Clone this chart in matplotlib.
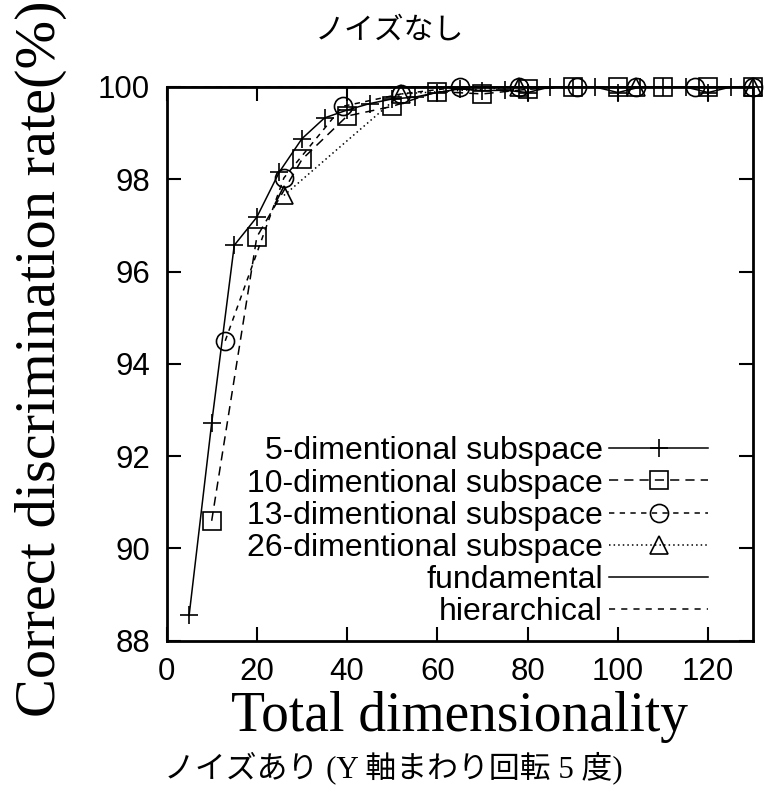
import matplotlib.pyplot as plt

# values
dim5_x = [5, 10, 15, 20, 25, 30, 35, 40, 45, 50, 55, 60, 65,
          70, 75, 80, 85, 90, 95, 100, 105, 110, 115, 120, 125, 130]
dim5_y = [88.55, 92.72, 96.57, 97.18, 98.16, 98.88, 99.33, 99.50, 99.64, 99.74,
          99.78, 99.88, 99.96, 99.92, 99.93, 99.88, 100.0, 100.0, 100.0, 99.88,
          100.0, 100.0, 100.0, 99.88, 100.0, 100.0]

dim10_x = [10, 20, 30, 40, 50, 60, 70, 80, 90, 100, 110, 120, 130]
dim10_y = [90.6, 96.75, 98.43, 99.37, 99.58, 99.90, 99.85, 99.95, 100.0,
           100.0, 100.0, 100.0, 100.0]

dim13_x = [13, 26, 39, 52, 65, 78, 91, 104, 117, 130]
dim13_y = [94.5, 98.03, 99.58, 99.85, 100.0, 100.0, 100.0, 100.0, 100.0, 100.0]

dim26_x = [26, 52, 78, 104, 130]
dim26_y = [97.65, 99.85, 100.0, 100.0, 100.0]

fundamental = 100.0
hierarchical = 100.0

xticks = [0, 20, 40, 60, 80, 100, 120]
yticks = [88, 90, 92, 94, 96, 98, 100]

sans = ['Liberation Sans', 'DejaVu Sans']
serif = ['Liberation Serif', 'DejaVu Serif']
jp = ['Noto Sans CJK JP', 'DejaVu Sans']

plt.rcParams['font.family'] = sans

fig = plt.figure(figsize=(7.64, 7.98), dpi=100)
ax = fig.add_axes([0.218, 0.197, 0.768, 0.694])

mk = dict(markersize=13, markerfacecolor='none', markeredgecolor='black',
          markeredgewidth=1.2, clip_on=False)
ax.plot(dim5_x, dim5_y, color='black', lw=1.1, marker='+',
        label='5-dimentional subspace', **mk)
ax.plot(dim10_x, dim10_y, color='black', lw=1.1, marker='s', linestyle=(0, (6, 4)),
        label='10-dimentional subspace', **mk)
ax.plot(dim13_x, dim13_y, color='black', lw=1.1, marker='o', linestyle=(0, (3.5, 3.5)),
        label='13-dimentional subspace', **mk)
ax.plot(dim26_x, dim26_y, color='black', lw=1.1, marker='^', linestyle=(0, (1, 2)),
        label='26-dimentional subspace', **mk)
ax.axhline(fundamental, color='black', lw=1.1, label='fundamental', clip_on=False)
ax.axhline(hierarchical, color='black', lw=1.1, linestyle=(0, (4, 4)),
           label='hierarchical', clip_on=False)

ax.set_xlim(0, 130)
ax.set_ylim(88, 100)
ax.set_xticks(xticks)
ax.set_yticks(yticks)
ax.tick_params(direction='in', length=10, width=1.5, top=True, right=True,
               labelsize=22.5, pad=12)
for s in ax.spines.values():
    s.set_linewidth(2)

ax.set_xlabel('Total dimensionality', fontsize=40, family=serif)
ax.xaxis.set_label_coords(0.5, -0.09)
ax.set_ylabel('Correct discrimination rate(%)', fontsize=42, family=serif)
ax.yaxis.set_label_coords(-0.17, 0.51)

ax.legend(loc='lower right', bbox_to_anchor=(0.945, 0.001), frameon=False,
          markerfirst=False, fontsize=23, labelspacing=0.07, handlelength=3.1,
          handletextpad=0.2, borderaxespad=0.0)

fig.text(0.51, 0.962, 'ノイズなし', family=jp, fontsize=21.5, ha='center', va='center')
fig.text(0.215, 0.038, 'ノイズあり (Y 軸まわり回転 5 度)',
         family=['Liberation Serif', 'Noto Sans CJK JP'], fontsize=22.2,
         ha='left', va='center')

fig.savefig('out.png', dpi=100)
